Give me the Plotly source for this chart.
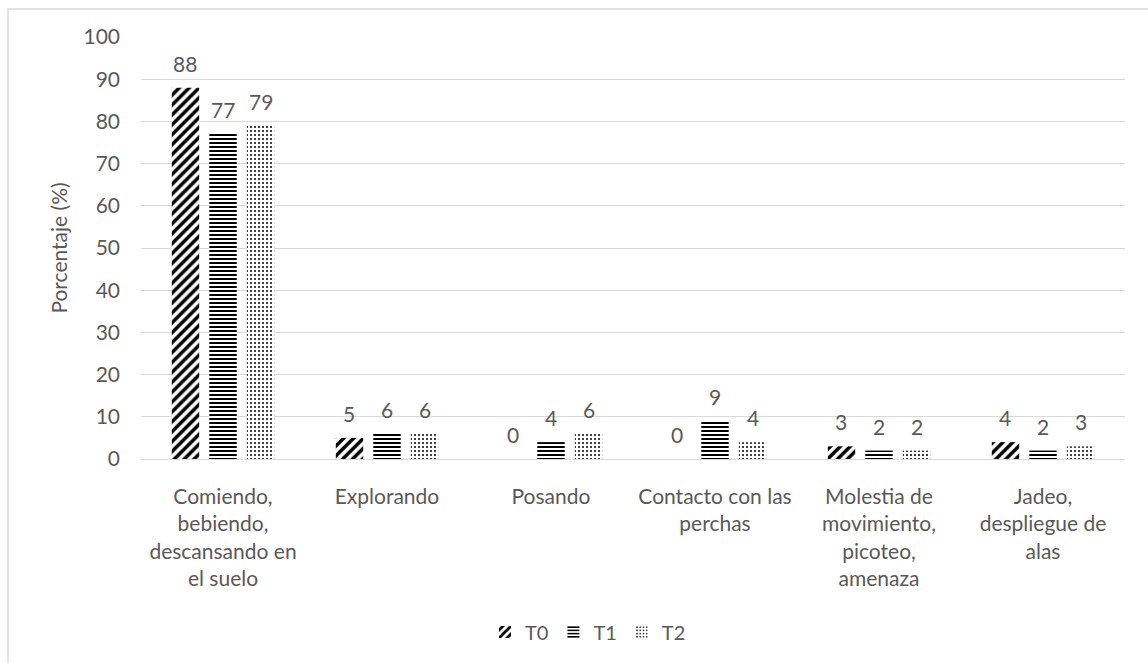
import plotly.graph_objects as go

categories = [
    "Comiendo,<br>bebiendo,<br>descansando en<br>el suelo",
    "Explorando",
    "Posando",
    "Contacto con las<br>perchas",
    "Molestia de<br>movimiento,<br>picoteo,<br>amenaza",
    "Jadeo,<br>despliegue de<br>alas",
]
series_names = ["T0", "T1", "T2"]
t0 = [88, 5, 0, 0, 3, 4]
t1 = [77, 6, 4, 9, 2, 2]
t2 = [79, 6, 6, 4, 2, 3]
y_ticks = [0, 10, 20, 30, 40, 50, 60, 70, 80, 90, 100]

series_values = [t0, t1, t2]
patterns = [
    dict(shape="/", size=7, solidity=0.5, fgcolor="black", fgopacity=1, bgcolor="white"),
    dict(shape="-", size=4, solidity=0.5, fgcolor="black", fgopacity=1, bgcolor="white"),
    dict(shape=".", size=4, solidity=0.2, fgcolor="black", fgopacity=1, bgcolor="white"),
]

FONT = "Lato"
FS = 21
TEXT = "#595959"
GRID = "#d9d9d9"

W, H = 1148, 663
L, R, T, B = 141, 23, 37, 204
BARGAP = 0.314
BARGROUPGAP = 0.27

fig = go.Figure()
for name, vals, pat in zip(series_names, series_values, patterns):
    fig.add_trace(go.Bar(
        name=name, x=categories, y=vals,
        marker=dict(color="white", pattern=pat, line=dict(width=0)),
    ))

# value labels above each bar
plot_w = W - L - R
slot = plot_w / len(categories) * (1 - BARGAP) / len(series_names)
annotations = []
for i, vals in enumerate(series_values):
    off = (i - (len(series_names) - 1) / 2) * slot
    for c, v in zip(categories, vals):
        annotations.append(dict(
            x=c, y=v, text=str(v), showarrow=False,
            xshift=off, yshift=10, yanchor="bottom",
            font=dict(family=FONT, size=FS, color=TEXT),
        ))

# light outer frame of the chart area
shapes = [dict(
    type="rect", xref="paper", yref="paper",
    x0=(8 - L) / plot_w, x1=1.2,
    y0=-1.0, y1=(H - B - 9) / (H - T - B),
    line=dict(color=GRID, width=1.5), fillcolor="rgba(0,0,0,0)", layer="below",
)]

fig.update_layout(
    width=W, height=H,
    margin=dict(l=L, r=R, t=T, b=B),
    paper_bgcolor="white", plot_bgcolor="white",
    barmode="group", bargap=BARGAP, bargroupgap=BARGROUPGAP,
    font=dict(family=FONT, size=FS, color=TEXT),
    annotations=annotations, shapes=shapes,
    legend=dict(
        orientation="h", x=(588 - L) / plot_w, xanchor="center",
        y=(H - B - 632) / (H - T - B), yanchor="middle",
        font=dict(family=FONT, size=FS - 1, color=TEXT),
        itemwidth=30, traceorder="normal",
    ),
    xaxis=dict(
        showgrid=False, showline=False, ticks="",
        tickfont=dict(family=FONT, size=FS, color=TEXT),
        ticklabelstandoff=23,
    ),
    yaxis=dict(
        range=[0, 100], tickvals=y_ticks,
        showgrid=True, gridcolor=GRID, gridwidth=1.3,
        zeroline=True, zerolinecolor=GRID, zerolinewidth=1.3,
        showline=False, ticks="",
        tickfont=dict(family=FONT, size=FS, color=TEXT),
        ticklabelstandoff=20,
        title=dict(text="Porcentaje (%)", standoff=10,
                   font=dict(family=FONT, size=FS, color=TEXT)),
    ),
)

fig.write_html("out.html")
